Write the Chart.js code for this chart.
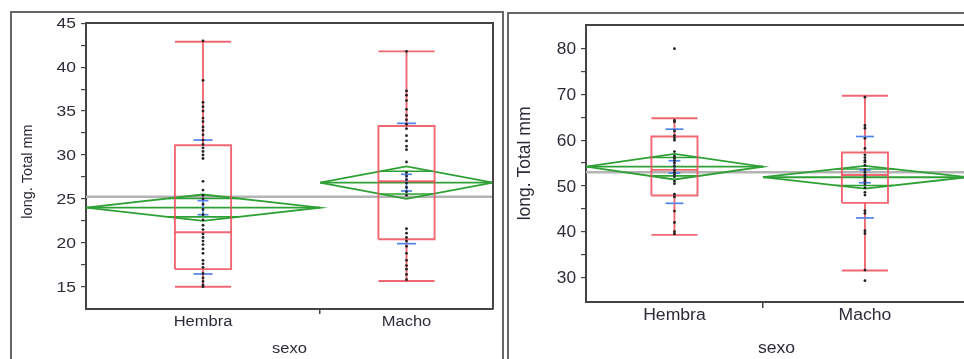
<!DOCTYPE html>
<html>
<head>
<meta charset="utf-8">
<script src="https://cdn.jsdelivr.net/npm/chart.js@4.4.0/dist/chart.umd.min.js"></script>
<style>
  html, body { margin: 0; padding: 0; background: #fff; overflow: hidden; width: 964px; height: 359px; }
  .frame { position: absolute; border: 2px solid #666; border-bottom: none; }
  #frameL { left: 10px; top: 11px; width: 490px; height: 400px; }
  #frameR { left: 507px; top: 12px; width: 500px; height: 400px; border-right: none; }
  canvas { position: absolute; top: 0; }
  #chL { left: 0; }
  #chR { left: 508px; }
</style>
</head>
<body>
<div class="frame" id="frameL"></div>
<div class="frame" id="frameR"></div>
<canvas id="chL" width="500" height="359"></canvas>
<canvas id="chR" width="472" height="359"></canvas>
<script>
// categories
const sexo = ["Hembra", "Macho"];
const yTitle = "long. Total mm";
const xTitle = "sexo";

// left panel
const leftN = [46, 34];
const leftWhiskerLow = [15.0, 15.65];
const leftQ1 = [17.0, 20.4];
const leftMedian = [21.2, 27.0];
const leftQ3 = [31.1, 33.3];
const leftWhiskerHigh = [42.9, 41.8];
const leftMean = [24.0, 26.85];
const leftCiLow = [22.5, 25.0];
const leftCiHigh = [25.5, 28.7];
const leftOverlapLow = [22.95, 25.55];
const leftOverlapHigh = [25.05, 28.15];
const leftSeLow = [23.2, 25.9];
const leftSeHigh = [24.8, 27.8];
const leftSdLow = [16.45, 19.9];
const leftSdHigh = [31.7, 33.6];
const leftGrandMean = 25.25;
const leftPtsHembra = [43, 38.5, 36, 35.5, 35, 34.2, 33.8, 33.2, 32.8, 32.3, 31.7, 31.2, 30.8, 30.4, 30, 29.6,
  27, 26, 25.4, 25, 24.4, 23.8, 23.2, 22.6, 22, 21.5, 21, 20.6, 20.2, 19.8, 19.3, 18.8, 18, 17.6, 17.2, 16.5, 16, 15.6, 15.2, 15];
const leftPtsMacho = [41.8, 37.3, 36.8, 36.2, 35.2, 34.5, 34, 33.5, 33, 32.2, 31.6, 31, 30.6, 29.2, 28, 27.6,
  27.2, 26.8, 26.3, 25.8, 25.4, 21.6, 21.1, 20.6, 20.2, 19.6, 18.8, 18, 17.4, 17, 16.4, 15.8];
const leftTicksMajor = [15, 20, 25, 30, 35, 40, 45];
const leftTicksMinor = [17.5, 22.5, 27.5, 32.5, 37.5, 42.5];
const leftRange = [12.46, 45.03];

// right panel
const rightN = [26, 30];
const rightWhiskerLow = [39.3, 31.5];
const rightQ1 = [47.9, 46.3];
const rightMedian = [53.5, 52.4];
const rightQ3 = [60.8, 57.3];
const rightWhiskerHigh = [64.8, 69.7];
const rightMean = [54.2, 51.9];
const rightCiLow = [51.4, 49.4];
const rightCiHigh = [57.0, 54.4];
const rightOverlapLow = [52.2, 50.1];
const rightOverlapHigh = [56.2, 53.7];
const rightSeLow = [52.8, 50.7];
const rightSeHigh = [55.5, 53.5];
const rightSdLow = [46.2, 43.0];
const rightSdHigh = [62.4, 60.8];
const rightGrandMean = 53.0;
const rightPtsHembra = [80, 64.3, 64, 62, 61, 60.5, 60, 57.5, 56.5, 56, 55.5, 55, 54.3, 53.5, 53, 52.5, 52,
  51, 50.5, 48.2, 47.6, 44.5, 42, 40, 39.5];
const rightPtsMacho = [69.4, 63.2, 62.6, 60.4, 58.2, 56.8, 56.2, 55.6, 55.2, 54.5, 53.6, 53, 52.4, 52, 51.4,
  51, 50.4, 49.6, 48.6, 48, 44.6, 44, 40.2, 39.6, 31.6, 29.3];
const rightTicksMajor = [30, 40, 50, 60, 70, 80];
const rightTicksMinor = [35, 45, 55, 65, 75];
const rightRange = [24.63, 85.17];

const RED = "rgba(238, 78, 92, 0.85)";
const GREEN = "#2ea035";
const BLUE = "#5283ea";
const INK = "#2c2c38";
const FONT = "'Liberation Sans', Arial, sans-serif";

function line(pts, color, width, order) {
  return { data: pts, showLine: true, borderColor: color, borderWidth: width, pointRadius: 0, fill: false, tension: 0, order: order };
}

function buildDatasets(g, s) {
  const total = g.n[0] + g.n[1];
  const out = [];
  out.push(line([{ x: 0, y: g.grand }, { x: total, y: g.grand }], "#b4b4b4", 2.4, 5));
  let start = 0;
  g.n.forEach((n, i) => {
    const x0 = start, x1 = start + n, c = start + n / 2;
    start = x1;
    const half = n / 2;
    const bw = total * s.boxW / 2, sd = total * s.sdW / 2, se = total * s.seW / 2;
    // mean diamond
    out.push(line([{ x: x0, y: g.mean[i] }, { x: c, y: g.ciHigh[i] }, { x: x1, y: g.mean[i] },
      { x: c, y: g.ciLow[i] }, { x: x0, y: g.mean[i] }], GREEN, 1.8, 4));
    out.push(line([{ x: x0, y: g.mean[i] }, { x: x1, y: g.mean[i] }], GREEN, 1.8, 4));
    const ciHalf = (g.ciHigh[i] - g.ciLow[i]) / 2;
    [g.ovHigh[i], g.ovLow[i]].forEach(v => {
      const w = half * (1 - Math.abs(v - g.mean[i]) / ciHalf);
      out.push(line([{ x: c - w, y: v }, { x: c + w, y: v }], GREEN, 1.6, 4));
    });
    // box and whiskers
    out.push(line([{ x: c - bw, y: g.q1[i] }, { x: c + bw, y: g.q1[i] }, { x: c + bw, y: g.q3[i] },
      { x: c - bw, y: g.q3[i] }, { x: c - bw, y: g.q1[i] }], RED, 1.9, 3));
    out.push(line([{ x: c - bw, y: g.med[i] }, { x: c + bw, y: g.med[i] }], RED, 1.9, 3));
    out.push(line([{ x: c, y: g.q3[i] }, { x: c, y: g.wHigh[i] }], RED, 1.9, 3));
    out.push(line([{ x: c, y: g.wLow[i] }, { x: c, y: g.q1[i] }], RED, 1.9, 3));
    out.push(line([{ x: c - bw, y: g.wHigh[i] }, { x: c + bw, y: g.wHigh[i] }], RED, 1.9, 3));
    out.push(line([{ x: c - bw, y: g.wLow[i] }, { x: c + bw, y: g.wLow[i] }], RED, 1.9, 3));
    // std dev and std error marks
    out.push(line([{ x: c - sd, y: g.sdHigh[i] }, { x: c + sd, y: g.sdHigh[i] }], BLUE, 1.7, 2));
    out.push(line([{ x: c - sd, y: g.sdLow[i] }, { x: c + sd, y: g.sdLow[i] }], BLUE, 1.7, 2));
    out.push(line([{ x: c, y: g.seLow[i] }, { x: c, y: g.seHigh[i] }], BLUE, 1.7, 2));
    out.push(line([{ x: c - se, y: g.seHigh[i] }, { x: c + se, y: g.seHigh[i] }], BLUE, 1.7, 2));
    out.push(line([{ x: c - se, y: g.seLow[i] }, { x: c + se, y: g.seLow[i] }], BLUE, 1.7, 2));
    // raw points
    out.push({ data: g.pts[i].map(v => ({ x: c, y: v })), pointRadius: 1.4, pointBackgroundColor: "#222",
      pointBorderWidth: 0, showLine: false, order: 1 });
  });
  return out;
}

function txt(ctx, text, x, y, size, sx, align) {
  ctx.save();
  ctx.font = size + "px " + FONT;
  ctx.fillStyle = INK;
  ctx.textBaseline = "alphabetic";
  ctx.textAlign = align;
  ctx.translate(x, y);
  ctx.scale(sx, 1);
  ctx.fillText(text, 0, 0);
  ctx.restore();
}

function makeChart(id, g, s) {
  const total = g.n[0] + g.n[1];
  const textPlugin = {
    id: "texts",
    afterDraw(chart) {
      const ctx = chart.ctx, a = chart.chartArea;
      const xs = chart.scales.x, ys = chart.scales.y;
      // top and right frame
      ctx.save();
      ctx.strokeStyle = "#444";
      ctx.lineWidth = 2;
      ctx.beginPath();
      ctx.moveTo(a.left, a.top); ctx.lineTo(a.right, a.top); ctx.lineTo(a.right, a.bottom);
      ctx.stroke();
      ctx.restore();
      g.major.forEach(v => {
        txt(ctx, String(v), a.left - s.labelGap, ys.getPixelForValue(v) + s.tickSize * 0.36, s.tickSize, s.tickSx, "right");
      });
      let start = 0;
      sexo.forEach((name, i) => {
        const c = start + g.n[i] / 2;
        start += g.n[i];
        txt(ctx, name, xs.getPixelForValue(c), s.catBase, s.catSize, s.catSx, "center");
      });
      txt(ctx, xTitle, (a.left + a.right) / 2, s.titleBase, s.catSize, s.catSx, "center");
      ctx.save();
      ctx.font = s.ySize + "px " + FONT;
      ctx.fillStyle = INK;
      ctx.textAlign = "center";
      ctx.textBaseline = "alphabetic";
      ctx.translate(s.yBase, s.yMid);
      ctx.rotate(-Math.PI / 2);
      ctx.fillText(yTitle, 0, 0);
      ctx.restore();
    }
  };
  return new Chart(document.getElementById(id), {
    type: "scatter",
    data: { datasets: buildDatasets(g, s) },
    options: {
      responsive: false,
      animation: false,
      events: [],
      layout: { padding: { top: s.padTop, right: s.padRight, left: 0, bottom: 0 } },
      plugins: { legend: { display: false }, tooltip: { enabled: false } },
      scales: {
        x: {
          type: "linear", min: 0, max: total,
          grid: { drawOnChartArea: false, drawTicks: true, tickLength: s.xTick, color: "#444", lineWidth: 1.5 },
          border: { display: true, color: "#444", width: 2 },
          ticks: { display: false },
          afterBuildTicks: sc => { sc.ticks = [{ value: g.n[0] }]; },
          afterFit: sc => { sc.height = s.xHeight; }
        },
        y: {
          type: "linear", min: g.range[0], max: g.range[1],
          grid: { drawOnChartArea: false, drawTicks: true, tickLength: 5, color: "#444", lineWidth: 1.2 },
          border: { display: true, color: "#444", width: 2 },
          ticks: { display: false },
          afterBuildTicks: sc => { sc.ticks = g.major.concat(g.minor).sort((p, q) => p - q).map(v => ({ value: v })); },
          afterFit: sc => { sc.width = s.yWidth; }
        }
      }
    },
    plugins: [textPlugin]
  });
}

makeChart("chL", {
  n: leftN, wLow: leftWhiskerLow, q1: leftQ1, med: leftMedian, q3: leftQ3, wHigh: leftWhiskerHigh,
  mean: leftMean, ciLow: leftCiLow, ciHigh: leftCiHigh, ovLow: leftOverlapLow, ovHigh: leftOverlapHigh,
  seLow: leftSeLow, seHigh: leftSeHigh, sdLow: leftSdLow, sdHigh: leftSdHigh, grand: leftGrandMean,
  pts: [leftPtsHembra, leftPtsMacho], major: leftTicksMajor, minor: leftTicksMinor, range: leftRange
}, {
  padTop: 23, padRight: 7, yWidth: 86, xHeight: 50, xTick: 5,
  boxW: 0.138, sdW: 0.047, seW: 0.027,
  labelGap: 10, tickSize: 14, tickSx: 1.25, catSize: 14, catSx: 1.18, catBase: 325.5, titleBase: 353,
  ySize: 14.5, yBase: 32, yMid: 171.5
});

makeChart("chR", {
  n: rightN, wLow: rightWhiskerLow, q1: rightQ1, med: rightMedian, q3: rightQ3, wHigh: rightWhiskerHigh,
  mean: rightMean, ciLow: rightCiLow, ciHigh: rightCiHigh, ovLow: rightOverlapLow, ovHigh: rightOverlapHigh,
  seLow: rightSeLow, seHigh: rightSeHigh, sdLow: rightSdLow, sdHigh: rightSdHigh, grand: rightGrandMean,
  pts: [rightPtsHembra, rightPtsMacho], major: rightTicksMajor, minor: rightTicksMinor, range: rightRange
}, {
  padTop: 25, padRight: 13, yWidth: 78, xHeight: 57, xTick: 6,
  boxW: 0.121, sdW: 0.047, seW: 0.031,
  labelGap: 10, tickSize: 16, tickSx: 1.08, catSize: 16, catSx: 1.1, catBase: 320, titleBase: 352.5,
  ySize: 17.5, yBase: 21.6, yMid: 163.4
});
</script>
</body>
</html>
